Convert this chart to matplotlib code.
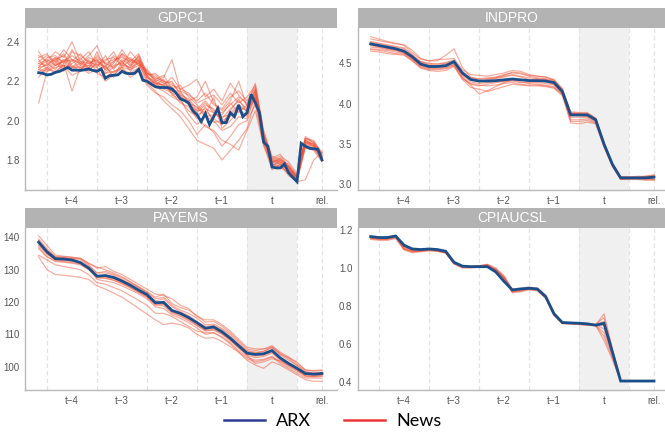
import numpy as np
import matplotlib.pyplot as plt
from matplotlib.lines import Line2D

# ---------------- data ----------------
panels = ['GDPC1', 'INDPRO', 'PAYEMS', 'CPIAUCSL']
tick_pos = [-4, -3, -2, -1, 0, 1]
tick_labels = ['t−4', 't−3', 't−2', 't−1', 't', 'rel.']
boundaries = [-4.5, -3.5, -2.5, -1.5, -0.5, 0.5, 1.0]

x_weekly = np.linspace(-14 / 3, 1.0, 69)
x_biweekly = np.linspace(-14 / 3, 1.0, 35)

gdp_arx = [2.243, 2.24, 2.232, 2.235, 2.245, 2.25, 2.26, 2.27, 2.256, 2.256, 2.255, 2.258, 2.262,
           2.255, 2.25, 2.262, 2.215, 2.228, 2.23, 2.232, 2.25, 2.24, 2.238, 2.24, 2.26,
           2.205, 2.2, 2.185, 2.172, 2.168, 2.168, 2.168, 2.16, 2.14, 2.11, 2.102, 2.09, 2.05,
           2.03, 1.995, 2.036, 1.98, 2.02, 2.062, 1.99, 1.99, 2.04, 2.02, 2.08, 2.02, 2.04,
           2.133, 2.09, 2.04, 1.89, 1.87, 1.765, 1.76, 1.76, 1.78, 1.735, 1.712, 1.69,
           1.885, 1.87, 1.86, 1.857, 1.855, 1.80]

gdp_news = [
    [2.26, 2.25, 2.27, 2.28, 2.27, 2.27, 2.28, 2.27, 2.24, 2.25, 2.27, 2.26, 2.28, 2.22, 2.19, 2.18, 2.17, 2.12, 2.10, 2.05, 2.06, 2.04, 2.01, 2.06, 2.10, 2.06, 2.12, 1.91, 1.78, 1.77, 1.75, 1.70, 1.89, 1.87, 1.81],
    [2.30, 2.33, 2.30, 2.36, 2.31, 2.29, 2.33, 2.38, 2.28, 2.30, 2.34, 2.29, 2.32, 2.25, 2.20, 2.22, 2.31, 2.15, 2.13, 2.10, 2.14, 2.08, 2.06, 2.12, 2.15, 2.10, 2.17, 1.93, 1.80, 1.79, 1.76, 1.71, 1.90, 1.88, 1.82],
    [2.28, 2.30, 2.35, 2.32, 2.40, 2.30, 2.27, 2.31, 2.26, 2.29, 2.36, 2.30, 2.34, 2.24, 2.22, 2.20, 2.18, 2.16, 2.18, 2.21, 2.12, 2.16, 2.10, 2.19, 2.13, 2.08, 2.19, 1.95, 1.82, 1.80, 1.78, 1.72, 1.91, 1.89, 1.83],
    [2.09, 2.25, 2.28, 2.30, 2.26, 2.28, 2.25, 2.30, 2.27, 2.24, 2.28, 2.27, 2.33, 2.22, 2.18, 2.17, 2.15, 2.13, 2.08, 2.05, 2.09, 2.04, 2.02, 2.03, 2.07, 2.05, 2.11, 1.92, 1.77, 1.79, 1.74, 1.70, 1.88, 1.86, 1.80],
    [2.25, 2.27, 2.24, 2.29, 2.15, 2.27, 2.24, 2.26, 2.20, 2.23, 2.27, 2.22, 2.25, 2.18, 2.14, 2.12, 2.08, 2.05, 2.00, 1.93, 1.98, 1.94, 1.87, 1.92, 1.98, 2.00, 2.08, 1.88, 1.75, 1.78, 1.72, 1.69, 1.86, 1.85, 1.79],
    [2.33, 2.30, 2.32, 2.27, 2.35, 2.33, 2.30, 2.28, 2.31, 2.32, 2.28, 2.35, 2.30, 2.23, 2.24, 2.20, 2.19, 2.14, 2.10, 2.12, 2.20, 2.09, 2.05, 2.10, 2.20, 2.07, 2.15, 1.90, 1.79, 1.81, 1.77, 1.71, 1.88, 1.87, 1.82],
    [2.27, 2.28, 2.31, 2.26, 2.29, 2.32, 2.26, 2.29, 2.24, 2.27, 2.30, 2.25, 2.30, 2.21, 2.17, 2.15, 2.12, 2.10, 2.05, 2.02, 1.97, 1.95, 1.90, 1.88, 1.85, 1.95, 2.05, 1.87, 1.78, 1.76, 1.74, 1.70, 1.87, 1.86, 1.80],
    [2.31, 2.26, 2.29, 2.34, 2.28, 2.25, 2.31, 2.27, 2.33, 2.26, 2.31, 2.28, 2.31, 2.24, 2.21, 2.23, 2.16, 2.18, 2.12, 2.08, 2.03, 2.12, 1.96, 2.00, 2.05, 2.03, 2.16, 1.93, 1.81, 1.83, 1.76, 1.72, 1.92, 1.89, 1.84],
    [2.24, 2.26, 2.25, 2.28, 2.23, 2.25, 2.27, 2.24, 2.22, 2.25, 2.26, 2.24, 2.27, 2.19, 2.15, 2.10, 2.06, 2.02, 1.96, 1.90, 1.88, 1.86, 1.80, 1.85, 1.90, 1.96, 2.10, 1.89, 1.76, 1.77, 1.73, 1.69, 1.70, 1.80, 1.84],
    [2.29, 2.31, 2.28, 2.30, 2.33, 2.30, 2.29, 2.32, 2.29, 2.31, 2.32, 2.30, 2.29, 2.25, 2.20, 2.18, 2.22, 2.16, 2.14, 2.09, 2.11, 2.13, 2.08, 2.14, 2.09, 2.12, 2.18, 1.94, 1.80, 1.82, 1.79, 1.73, 1.91, 1.90, 1.83],
    [2.26, 2.29, 2.26, 2.31, 2.27, 2.29, 2.26, 2.35, 2.25, 2.28, 2.29, 2.27, 2.29, 2.20, 2.19, 2.16, 2.14, 2.09, 2.07, 2.01, 2.07, 1.99, 2.00, 2.02, 2.06, 2.02, 2.13, 1.91, 1.79, 1.78, 1.75, 1.70, 1.89, 1.88, 1.81],
    [2.22, 2.27, 2.30, 2.25, 2.31, 2.26, 2.30, 2.25, 2.28, 2.22, 2.30, 2.26, 2.31, 2.23, 2.18, 2.21, 2.13, 2.11, 2.03, 1.98, 2.02, 2.00, 1.95, 1.97, 2.02, 2.01, 2.12, 1.90, 1.77, 1.80, 1.76, 1.71, 1.89, 1.87, 1.81],
    [2.32, 2.34, 2.28, 2.31, 2.30, 2.34, 2.29, 2.31, 2.27, 2.33, 2.30, 2.32, 2.28, 2.26, 2.21, 2.19, 2.20, 2.13, 2.11, 2.06, 2.10, 2.05, 2.04, 2.08, 2.12, 2.09, 2.16, 1.92, 1.79, 1.80, 1.77, 1.71, 1.90, 1.88, 1.82],
    [2.27, 2.32, 2.33, 2.29, 2.36, 2.28, 2.32, 2.30, 2.26, 2.30, 2.33, 2.28, 2.33, 2.22, 2.20, 2.17, 2.15, 2.15, 2.09, 2.04, 2.08, 2.06, 1.98, 2.05, 2.11, 2.04, 2.14, 1.91, 1.80, 1.78, 1.75, 1.71, 1.89, 1.88, 1.82],
    [2.35, 2.29, 2.31, 2.33, 2.27, 2.31, 2.35, 2.28, 2.30, 2.35, 2.27, 2.31, 2.29, 2.24, 2.23, 2.19, 2.17, 2.11, 2.09, 2.07, 2.02, 2.03, 2.03, 2.09, 2.04, 2.08, 2.15, 1.93, 1.81, 1.79, 1.77, 1.72, 1.91, 1.89, 1.83],
    [2.29, 2.28, 2.32, 2.30, 2.31, 2.29, 2.28, 2.33, 2.29, 2.27, 2.34, 2.31, 2.30, 2.23, 2.19, 2.18, 2.14, 2.12, 2.08, 2.03, 2.05, 2.01, 1.98, 2.04, 2.08, 2.05, 2.14, 1.92, 1.78, 1.81, 1.76, 1.70, 1.90, 1.87, 1.81],
]

ind_arx = [4.74, 4.72, 4.70, 4.68, 4.65, 4.58, 4.49, 4.46, 4.46, 4.47, 4.52, 4.38, 4.30, 4.28, 4.28,
           4.285, 4.295, 4.305, 4.295, 4.285, 4.285, 4.28, 4.26, 4.15, 3.86, 3.86, 3.86, 3.80,
           3.50, 3.25, 3.08, 3.08, 3.08, 3.08, 3.09]

ind_news = [
    [4.83, 4.80, 4.77, 4.75, 4.72, 4.63, 4.55, 4.53, 4.55, 4.55, 4.56, 4.42, 4.36, 4.35, 4.34, 4.36, 4.38, 4.41, 4.40, 4.36, 4.34, 4.33, 4.30, 4.18, 3.90, 3.89, 3.89, 3.82, 3.50, 3.24, 3.09, 3.09, 3.10, 3.10, 3.12],
    [4.80, 4.78, 4.76, 4.74, 4.73, 4.66, 4.56, 4.53, 4.53, 4.60, 4.68, 4.45, 4.33, 4.30, 4.31, 4.32, 4.34, 4.36, 4.34, 4.32, 4.31, 4.30, 4.28, 4.16, 3.88, 3.88, 3.87, 3.81, 3.49, 3.25, 3.09, 3.09, 3.09, 3.09, 3.10],
    [4.65, 4.64, 4.62, 4.61, 4.60, 4.53, 4.44, 4.41, 4.40, 4.41, 4.46, 4.30, 4.20, 4.18, 4.15, 4.18, 4.21, 4.24, 4.23, 4.22, 4.22, 4.21, 4.19, 4.10, 3.76, 3.75, 3.77, 3.75, 3.46, 3.22, 3.06, 3.06, 3.06, 3.05, 3.05],
    [4.70, 4.69, 4.67, 4.66, 4.63, 4.55, 4.46, 4.43, 4.43, 4.44, 4.49, 4.33, 4.23, 4.12, 4.16, 4.21, 4.26, 4.29, 4.27, 4.25, 4.24, 4.23, 4.21, 4.12, 3.80, 3.80, 3.81, 3.77, 3.48, 3.23, 3.07, 3.07, 3.07, 3.06, 3.07],
    [4.76, 4.74, 4.72, 4.70, 4.68, 4.60, 4.51, 4.48, 4.47, 4.49, 4.52, 4.36, 4.29, 4.27, 4.29, 4.31, 4.33, 4.35, 4.33, 4.30, 4.30, 4.30, 4.27, 4.16, 3.87, 3.87, 3.86, 3.80, 3.50, 3.25, 3.08, 3.08, 3.08, 3.09, 3.10],
    [4.68, 4.67, 4.66, 4.64, 4.62, 4.55, 4.47, 4.44, 4.44, 4.45, 4.48, 4.32, 4.25, 4.23, 4.22, 4.23, 4.25, 4.26, 4.24, 4.23, 4.23, 4.22, 4.20, 4.11, 3.83, 3.83, 3.83, 3.78, 3.48, 3.24, 3.07, 3.08, 3.08, 3.08, 3.08],
    [4.73, 4.71, 4.69, 4.67, 4.64, 4.58, 4.52, 4.50, 4.49, 4.50, 4.53, 4.40, 4.32, 4.31, 4.32, 4.33, 4.36, 4.38, 4.37, 4.34, 4.32, 4.31, 4.29, 4.19, 3.89, 3.88, 3.88, 3.82, 3.51, 3.26, 3.09, 3.09, 3.09, 3.10, 3.11],
    [4.72, 4.70, 4.68, 4.66, 4.63, 4.56, 4.48, 4.45, 4.45, 4.46, 4.50, 4.35, 4.27, 4.25, 4.26, 4.27, 4.28, 4.30, 4.29, 4.28, 4.27, 4.27, 4.24, 4.14, 3.85, 3.85, 3.84, 3.79, 3.49, 3.25, 3.08, 3.08, 3.07, 3.07, 3.06],
    [4.67, 4.66, 4.64, 4.62, 4.61, 4.53, 4.45, 4.42, 4.42, 4.43, 4.47, 4.31, 4.24, 4.22, 4.24, 4.26, 4.27, 4.28, 4.26, 4.26, 4.26, 4.25, 4.23, 4.13, 3.78, 3.78, 3.79, 3.76, 3.47, 3.23, 3.06, 3.07, 3.07, 3.07, 3.06],
    [4.77, 4.75, 4.73, 4.71, 4.69, 4.61, 4.52, 4.49, 4.49, 4.51, 4.54, 4.38, 4.30, 4.28, 4.30, 4.32, 4.35, 4.39, 4.38, 4.35, 4.34, 4.33, 4.29, 4.17, 3.88, 3.87, 3.87, 3.81, 3.50, 3.25, 3.09, 3.08, 3.08, 3.09, 3.09],
]

pay_arx = [138.5, 135.5, 133.4, 133.3, 133.0, 132.2, 130.5, 128.0, 128.2, 127.6, 126.5, 125.2, 123.7,
           122.3, 119.8, 119.9, 117.4, 116.5, 115.2, 113.6, 111.9, 112.3, 110.8, 108.8, 106.5,
           104.2, 103.8, 104.0, 105.0, 102.7, 101.0, 99.5, 97.9, 97.7, 97.9]

pay_news = [
    [140.5, 137.5, 134.5, 134.2, 133.8, 133.5, 132.0, 130.5, 131.0, 129.5, 128.5, 127.0, 125.5, 124.0, 122.5, 122.0, 121.0, 119.0, 118.0, 115.5, 114.5, 114.5, 113.0, 111.0, 108.5, 106.0, 105.5, 105.5, 106.5, 104.5, 103.0, 101.0, 99.0, 98.8, 99.0],
    [134.5, 133.0, 131.5, 131.0, 130.5, 130.0, 128.5, 126.0, 125.5, 124.5, 123.5, 122.0, 120.5, 119.0, 116.5, 116.5, 115.5, 114.0, 112.5, 111.0, 110.5, 110.5, 109.0, 107.0, 104.5, 102.5, 101.5, 102.0, 103.0, 101.0, 99.5, 98.0, 96.5, 96.5, 96.5],
    [134.0, 130.0, 128.5, 128.3, 128.0, 127.6, 127.0, 125.0, 124.0, 122.8, 121.5, 119.8, 118.0, 116.3, 114.5, 113.0, 113.5, 113.0, 112.0, 110.0, 108.8, 109.0, 107.8, 106.2, 104.5, 102.0, 100.5, 99.5, 101.5, 100.5, 99.0, 97.5, 96.0, 95.5, 95.5],
    [139.0, 136.0, 133.8, 133.6, 133.5, 133.5, 131.5, 129.0, 129.0, 128.3, 127.0, 125.8, 124.5, 123.0, 121.0, 121.5, 119.0, 117.5, 116.5, 115.0, 113.0, 113.2, 111.8, 110.0, 107.5, 105.0, 104.5, 104.7, 105.8, 103.6, 102.0, 100.3, 98.5, 98.0, 98.3],
    [137.0, 134.0, 132.5, 132.3, 132.0, 131.5, 130.0, 127.5, 127.3, 126.7, 125.6, 124.4, 123.0, 121.5, 119.0, 118.8, 116.5, 115.6, 114.2, 112.7, 111.0, 111.3, 110.0, 108.0, 105.8, 103.6, 102.8, 103.2, 104.2, 102.0, 100.4, 99.0, 97.2, 97.0, 97.2],
    [138.0, 135.0, 133.0, 132.8, 132.6, 132.0, 130.5, 127.0, 126.5, 126.0, 125.0, 123.8, 122.5, 121.0, 118.5, 118.0, 116.0, 115.0, 113.6, 112.0, 110.0, 110.5, 109.3, 107.4, 105.0, 103.0, 102.0, 102.3, 103.2, 101.5, 100.0, 98.6, 97.0, 96.8, 97.0],
    [139.5, 136.5, 134.0, 134.0, 133.9, 133.5, 132.0, 130.8, 130.0, 129.0, 127.8, 126.3, 124.8, 123.2, 121.5, 122.5, 119.5, 118.3, 117.5, 115.8, 113.8, 114.0, 112.5, 110.5, 108.0, 105.5, 105.0, 105.5, 106.0, 104.0, 102.8, 101.5, 99.0, 98.6, 98.8],
    [137.5, 134.8, 133.2, 133.0, 132.8, 132.2, 130.8, 128.0, 127.8, 127.2, 126.0, 124.8, 123.3, 121.8, 119.3, 119.5, 117.0, 116.2, 114.8, 113.2, 111.5, 111.8, 110.4, 108.5, 106.2, 104.0, 103.3, 103.6, 104.6, 102.3, 100.8, 99.3, 97.6, 97.3, 97.5],
    [136.5, 134.0, 132.8, 132.5, 132.2, 131.8, 130.2, 127.6, 127.5, 126.8, 125.8, 124.5, 123.0, 121.6, 119.4, 119.2, 116.8, 115.8, 114.5, 112.8, 111.2, 111.6, 110.2, 108.2, 105.8, 103.5, 101.0, 101.5, 102.5, 101.8, 100.5, 99.0, 97.2, 97.0, 97.5],
    [139.0, 136.0, 134.0, 133.8, 133.4, 133.0, 131.2, 129.0, 129.5, 128.6, 127.5, 126.2, 124.5, 122.8, 120.3, 121.0, 118.5, 117.0, 115.8, 114.0, 112.5, 112.8, 111.5, 109.5, 107.0, 104.8, 104.2, 104.8, 106.2, 104.0, 102.5, 100.5, 98.5, 98.0, 98.2],
]

cpi_arx = [1.165, 1.16, 1.16, 1.168, 1.12, 1.10, 1.097, 1.10, 1.097, 1.088, 1.03, 1.01, 1.007, 1.007,
           1.007, 0.98, 0.93, 0.885, 0.89, 0.894, 0.89, 0.85, 0.76, 0.714, 0.712, 0.71, 0.707,
           0.70, 0.71, 0.56, 0.407, 0.407, 0.407, 0.407, 0.407]

cpi_news = [
    [1.155, 1.15, 1.15, 1.16, 1.10, 1.085, 1.09, 1.095, 1.09, 1.08, 1.025, 1.005, 1.005, 1.01, 1.015, 0.99, 0.945, 0.875, 0.88, 0.89, 0.885, 0.845, 0.755, 0.71, 0.708, 0.705, 0.70, 0.70, 0.76, 0.58, 0.41, 0.41, 0.41, 0.41, 0.41],
    [1.15, 1.145, 1.145, 1.155, 1.095, 1.08, 1.085, 1.09, 1.088, 1.078, 1.02, 1.0, 1.0, 1.005, 1.01, 0.985, 0.94, 0.87, 0.875, 0.885, 0.88, 0.84, 0.75, 0.708, 0.706, 0.703, 0.70, 0.698, 0.62, 0.52, 0.405, 0.405, 0.405, 0.405, 0.405],
    [1.165, 1.16, 1.162, 1.17, 1.115, 1.095, 1.095, 1.10, 1.095, 1.085, 1.035, 1.012, 1.01, 1.012, 1.02, 1.0, 0.96, 0.89, 0.895, 0.9, 0.895, 0.86, 0.765, 0.716, 0.714, 0.712, 0.71, 0.705, 0.74, 0.57, 0.408, 0.408, 0.408, 0.408, 0.407],
    [1.16, 1.155, 1.155, 1.165, 1.105, 1.09, 1.092, 1.098, 1.092, 1.082, 1.028, 1.008, 1.006, 1.01, 1.012, 0.99, 0.95, 0.88, 0.886, 0.893, 0.888, 0.848, 0.758, 0.712, 0.71, 0.708, 0.705, 0.703, 0.68, 0.55, 0.406, 0.406, 0.406, 0.406, 0.406],
    [1.158, 1.152, 1.153, 1.162, 1.10, 1.088, 1.09, 1.096, 1.09, 1.08, 1.026, 1.006, 1.005, 1.01, 1.018, 0.995, 0.955, 0.878, 0.884, 0.892, 0.886, 0.846, 0.757, 0.711, 0.709, 0.707, 0.704, 0.70, 0.66, 0.54, 0.406, 0.406, 0.406, 0.406, 0.406],
    [1.162, 1.158, 1.158, 1.168, 1.112, 1.094, 1.094, 1.1, 1.094, 1.086, 1.032, 1.01, 1.008, 1.012, 1.016, 0.995, 0.95, 0.885, 0.89, 0.896, 0.892, 0.852, 0.762, 0.714, 0.712, 0.71, 0.707, 0.704, 0.72, 0.56, 0.407, 0.407, 0.407, 0.407, 0.407],
    [1.155, 1.15, 1.15, 1.16, 1.098, 1.085, 1.088, 1.093, 1.088, 1.079, 1.022, 1.003, 1.003, 1.008, 1.014, 0.99, 0.948, 0.874, 0.88, 0.888, 0.884, 0.844, 0.752, 0.709, 0.707, 0.705, 0.702, 0.70, 0.64, 0.53, 0.405, 0.405, 0.405, 0.405, 0.405],
    [1.16, 1.157, 1.157, 1.166, 1.108, 1.092, 1.093, 1.098, 1.093, 1.084, 1.03, 1.009, 1.007, 1.011, 1.015, 0.992, 0.952, 0.882, 0.888, 0.894, 0.89, 0.85, 0.76, 0.713, 0.711, 0.709, 0.706, 0.702, 0.70, 0.555, 0.407, 0.407, 0.407, 0.407, 0.407],
]

yticks = {
    'GDPC1': [1.8, 2.0, 2.2, 2.4],
    'INDPRO': [3.0, 3.5, 4.0, 4.5],
    'PAYEMS': [100, 110, 120, 130, 140],
    'CPIAUCSL': [0.4, 0.6, 0.8, 1.0, 1.2],
}
ytick_fmt = {'GDPC1': '{:.1f}', 'INDPRO': '{:.1f}', 'PAYEMS': '{:.0f}', 'CPIAUCSL': '{:.1f}'}

series = {
    'GDPC1': (x_weekly, gdp_arx, x_biweekly, gdp_news),
    'INDPRO': (x_biweekly, ind_arx, x_biweekly, ind_news),
    'PAYEMS': (x_biweekly, pay_arx, x_biweekly, pay_news),
    'CPIAUCSL': (x_biweekly, cpi_arx, x_biweekly, cpi_news),
}

# ---------------- layout ----------------
W, H = 665, 433
fig = plt.figure(figsize=(W / 100, H / 100), dpi=100)
plt.rcParams['font.family'] = ['Liberation Sans', 'DejaVu Sans']

# pixel boxes (left, top, right, bottom)
boxes = {
    'GDPC1': (25, 28, 337, 190),
    'INDPRO': (358, 28, 665, 190),
    'PAYEMS': (25, 228, 337, 390),
    'CPIAUCSL': (358, 228, 665, 390),
}
xlims = {
    'GDPC1': (-4.94, 1.30), 'PAYEMS': (-4.94, 1.30),
    'INDPRO': (-4.92, 1.22), 'CPIAUCSL': (-4.92, 1.22),
}
ylims = {
    'GDPC1': (1.648, 2.47),
    'INDPRO': (2.93, 4.937),
    'PAYEMS': (92.8, 142.9),
    'CPIAUCSL': (0.36, 1.21),
}

ARX_COL = '#1b4f8c'
NEWS_COL = '#f0553a'

for name in panels:
    l, t, r, b = boxes[name]
    ax = fig.add_axes([l / W, 1 - b / H, (r - l) / W, (b - t) / H])
    ax.set_facecolor('white')
    ax.set_xlim(*xlims[name])
    ax.set_ylim(*ylims[name])
    ax.axvspan(-0.5, 0.5, color='#f0f0f0', zorder=0, lw=0)
    for bx in boundaries:
        ax.axvline(bx, color='#e2e2e2', ls=(0, (3.5, 2.5)), lw=0.9, zorder=0.5)
    xa, ya, xn, yn = series[name]
    for line in yn:
        ax.plot(xn, line, color=NEWS_COL, lw=0.85, alpha=0.5, zorder=2)
    ax.plot(xa, ya, color=ARX_COL, lw=2.0, zorder=3, solid_joinstyle='miter')
    ax.set_xticks(tick_pos)
    ax.set_xticklabels(tick_labels)
    ax.set_yticks(yticks[name])
    ax.set_yticklabels([ytick_fmt[name].format(v) for v in yticks[name]])
    ax.tick_params(length=0, pad=4, labelsize=7, colors='#555555')
    for s in ['top', 'right']:
        ax.spines[s].set_visible(False)
    for s in ['left', 'bottom']:
        ax.spines[s].set_color('#b8b8b8')
        ax.spines[s].set_linewidth(1.0)

    sax = fig.add_axes([l / W, 1 - t / H, (r - l) / W, 20 / H])
    sax.set_facecolor('#b3b3b3')
    sax.set_xticks([])
    sax.set_yticks([])
    for s in sax.spines.values():
        s.set_visible(False)
    sax.text(0.5, 0.5, name, color='white', fontsize=10, ha='center', va='center',
             transform=sax.transAxes)

handles = [Line2D([], [], color='#2e3a94', lw=1.8), Line2D([], [], color='#ee3535', lw=1.8)]
fig.legend(handles, ['ARX', 'News'], loc='center', bbox_to_anchor=(0.5, 1 - 421 / H),
           ncol=2, frameon=False, handlelength=2.3, handletextpad=0.6, columnspacing=1.8,
           prop={'family': ['Lato', 'DejaVu Sans'], 'size': 13})

fig.savefig('out.png', dpi=100)
